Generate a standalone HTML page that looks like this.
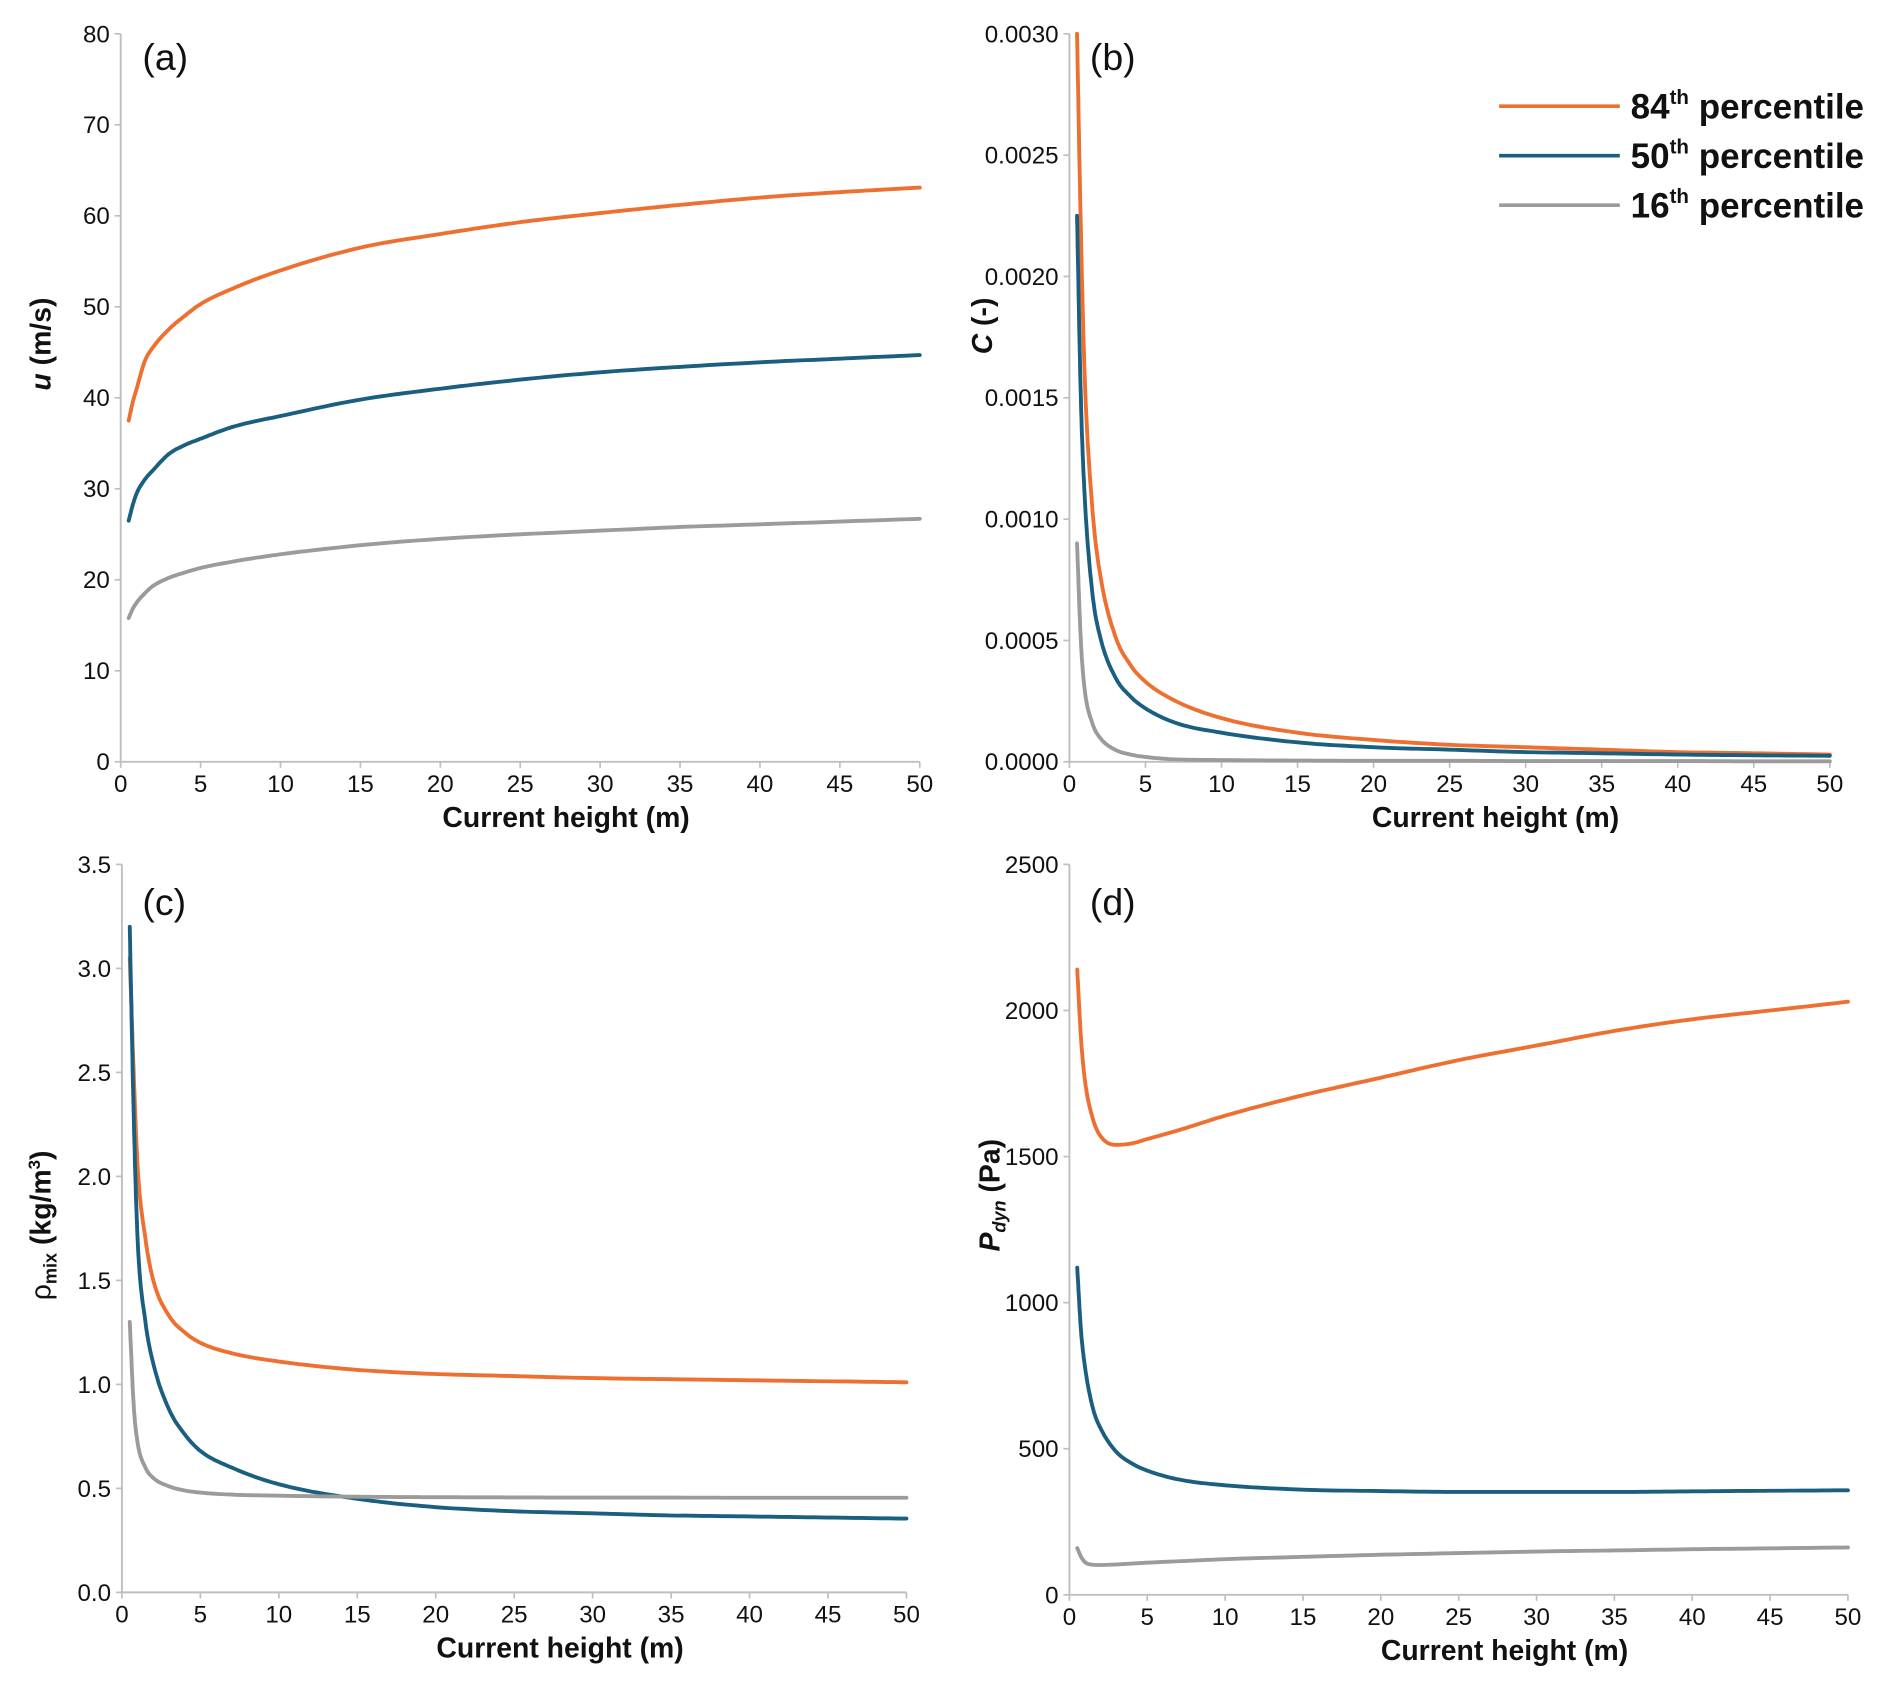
<!DOCTYPE html>
<html><head><meta charset="utf-8">
<style>
html,body{margin:0;padding:0;background:#fff;}
svg{display:block;font-family:"Liberation Sans",Arial,sans-serif;}
</style></head>
<body>
<svg id="chart" width="1892" height="1685" viewBox="0 0 1567.5 1395.7" preserveAspectRatio="none" xmlns="http://www.w3.org/2000/svg"></svg>
<script>
const heights = [0.5,0.75,1,1.5,2,3,4,5,7,10,15,20,25,30,35,40,45,50];
const xTicks = [0,5,10,15,20,25,30,35,40,45,50];
const seriesNames = ["84th","50th","16th"];
// Panel a: velocity u (m/s)
const uP84 = [37.5,39.5,41,44,45.5,47.5,49,50.3,52,54,56.5,58,59.3,60.3,61.2,62,62.6,63.1];
const uP50 = [26.5,28.2,29.5,31,32,33.8,34.8,35.5,36.8,38,39.8,41,42,42.8,43.4,43.9,44.3,44.7];
const uP16 = [15.8,16.8,17.5,18.5,19.3,20.2,20.8,21.3,22,22.8,23.8,24.5,25,25.4,25.8,26.1,26.4,26.7];
const uTicks = [0,10,20,30,40,50,60,70,80];
// Panel b: concentration C
const cP84 = [0.003,0.0022,0.0016,0.00105,0.00078,0.00052,0.0004,0.00033,0.00025,0.00018,0.00012,0.00009,0.00007,0.00006,0.00005,0.00004,0.000035,0.00003];
const cP50 = [0.00225,0.0015,0.0011,0.0007,0.00052,0.00035,0.00027,0.00022,0.00016,0.00012,0.00008,0.00006,0.00005,0.00004,0.000035,0.00003,0.000027,0.000025];
const cP16 = [0.0009,0.0005,0.0003,0.00016,0.0001,0.00005,0.00003,0.00002,0.00001,0.000007,0.000005,0.000004,0.000004,0.000003,0.000003,0.000003,0.000002,0.000002];
const cTicks = ["0.0000","0.0005","0.0010","0.0015","0.0020","0.0025","0.0030"];
// Panel c: density rho_mix
const rP84 = [3.05,2.5,2.05,1.7,1.5,1.33,1.25,1.2,1.15,1.11,1.07,1.05,1.04,1.03,1.025,1.02,1.015,1.01];
const rP50 = [3.2,2.3,1.7,1.3,1.1,0.88,0.76,0.68,0.6,0.52,0.45,0.41,0.39,0.38,0.37,0.365,0.36,0.355];
const rP16 = [1.3,0.9,0.72,0.6,0.55,0.51,0.49,0.48,0.47,0.465,0.46,0.458,0.457,0.456,0.456,0.455,0.455,0.455];
const rTicks = ["0.0","0.5","1.0","1.5","2.0","2.5","3.0","3.5"];
// Panel d: dynamic pressure
const pP84 = [2140,1900,1760,1630,1570,1540,1545,1560,1590,1640,1710,1770,1830,1880,1930,1970,2000,2030];
const pP50 = [1120,900,780,640,570,490,450,425,395,375,360,355,352,352,352,354,356,358];
const pP16 = [160,130,112,103,102,104,107,110,115,122,130,137,143,148,152,156,159,162];
const pTicks = [0,500,1000,1500,2000,2500];

const colors = ["#ed7031","#1a5f80","#9b9b9b"];
const NS = "http://www.w3.org/2000/svg";
const svg = document.getElementById("chart");
function mk(tag, attrs, parent){const e=document.createElementNS(NS,tag);for(const k in attrs)e.setAttribute(k,attrs[k]);(parent||svg).appendChild(e);return e;}

// monotone cubic (Fritsch-Carlson) interpolation for smooth curves
function monotone(xs, ys){
  const n=xs.length, d=[], m=new Array(n);
  for(let i=0;i<n-1;i++) d.push((ys[i+1]-ys[i])/(xs[i+1]-xs[i]));
  m[0]=d[0]; m[n-1]=d[n-2];
  for(let i=1;i<n-1;i++){ m[i] = (d[i-1]*d[i]<=0)?0:(d[i-1]+d[i])/2; }
  for(let i=0;i<n-1;i++){
    if(d[i]===0){m[i]=0;m[i+1]=0;continue;}
    const a=m[i]/d[i], b=m[i+1]/d[i], s=a*a+b*b;
    if(s>9){const t=3/Math.sqrt(s); m[i]=t*a*d[i]; m[i+1]=t*b*d[i];}
  }
  const out=[];
  for(let i=0;i<n-1;i++){
    const h=xs[i+1]-xs[i], steps=12;
    for(let k=0;k<steps;k++){
      const t=k/steps, t2=t*t, t3=t2*t;
      const y=(2*t3-3*t2+1)*ys[i]+(t3-2*t2+t)*h*m[i]+(-2*t3+3*t2)*ys[i+1]+(t3-t2)*h*m[i+1];
      out.push([xs[i]+t*h,y]);
    }
  }
  out.push([xs[n-1],ys[n-1]]);
  return out;
}

const panels = [
 {id:"a", x0:100,x1:762,y0:631,y1:28, ymax:80, ticks:uTicks, series:[uP84,uP50,uP16], lab:[118,58]},
 {id:"b", x0:886,x1:1516,y0:631,y1:28, ymax:0.003, ticks:cTicks, series:[cP84,cP50,cP16], lab:[903,58]},
 {id:"c", x0:101,x1:751,y0:1319,y1:716, ymax:3.5, ticks:rTicks, series:[rP84,rP50,rP16], lab:[118,758]},
 {id:"d", x0:886,x1:1531,y0:1321,y1:716, ymax:2500, ticks:pTicks, series:[pP84,pP50,pP16], lab:[903,758]},
];

panels.forEach(p=>{
  const g = mk("g",{});
  
  
  const xs = v => p.x0 + (v/50)*(p.x1-p.x0);
  const ys = v => p.y0 - (v/p.ymax)*(p.y0-p.y1);
  const ax = mk("g",{},g);
  
  
  mk("line",{x1:p.x0,y1:p.y0,x2:p.x0,y2:p.y1,stroke:"#bfbfbf","stroke-width":1.6},ax);
  mk("line",{x1:p.x0,y1:p.y0,x2:p.x1,y2:p.y0,stroke:"#bfbfbf","stroke-width":1.6},ax);
  p.ticks.forEach(t=>{
    const y = ys(parseFloat(t));
    mk("line",{x1:p.x0-5,y1:y,x2:p.x0,y2:y,stroke:"#bfbfbf","stroke-width":1.4},ax);
    const tx = mk("text",{x:p.x0-9,y:y+7,"text-anchor":"end","font-size":20,fill:"#111"},ax);
    tx.textContent = t;
    
    
  });
  xTicks.forEach(t=>{
    const x = xs(t);
    mk("line",{x1:x,y1:p.y0,x2:x,y2:p.y0+5,stroke:"#bfbfbf","stroke-width":1.4},ax);
    const tx = mk("text",{x:x,y:p.y0+25,"text-anchor":"middle","font-size":20,fill:"#111"},ax);
    tx.textContent = t;
    
    
  });
  const xt = mk("text",{x:(p.x0+p.x1)/2+38,y:p.y0+54,"text-anchor":"middle","font-size":23.5,"font-weight":"bold",fill:"#111"},g);
  xt.textContent = "Current height (m)";
  
  
  const pl = mk("text",{x:p.lab[0],y:p.lab[1],"font-size":31,fill:"#111"},g);
  pl.textContent = "("+p.id+")";
  
  
  p.series.forEach((vals,i)=>{
    const pts = monotone(heights, vals).map(([h,v])=>xs(h).toFixed(1)+","+ys(Math.min(v,p.ymax)).toFixed(1)).join(" ");
    const line = mk("polyline",{points:pts,fill:"none",stroke:colors[i],"stroke-width":3.2,"stroke-linejoin":"round","stroke-linecap":"round"},g);
    
    
  });
});

function ytitle(x,y,html,name){
  const t = mk("text",{transform:`translate(${x},${y}) rotate(-90)`,"text-anchor":"middle","font-size":23.5,"font-weight":"bold",fill:"#111"});
  t.innerHTML = html;
  
  
}
ytitle(42,285,'<tspan font-style="italic">u</tspan> (m/s)','y-axis-title-a');
ytitle(822,270,'<tspan font-style="italic">C</tspan> (-)','y-axis-title-b');
ytitle(42,1015,'<tspan font-weight="normal">ρ</tspan><tspan font-size="15" dy="5">mix</tspan><tspan dy="-5"> (kg/m</tspan><tspan font-size="14" dy="-9">3</tspan><tspan dy="9">)</tspan>','y-axis-title-c');
ytitle(828,990,'<tspan font-style="italic">P</tspan><tspan font-style="italic" font-size="15" dy="5">dyn</tspan><tspan dy="-5"> (Pa)</tspan>','y-axis-title-d');

const leg = mk("g",{});


const legY = [88,129,170], legNums = ["84","50","16"];
legNums.forEach((n,i)=>{
  const e = mk("g",{},leg);
  
  
  mk("line",{x1:1242,y1:legY[i],x2:1342,y2:legY[i],stroke:colors[i],"stroke-width":3},e);
  const t = mk("text",{x:1351,y:legY[i]+10,"font-size":29,"font-weight":"bold",fill:"#111"},e);
  t.innerHTML = n+'<tspan font-size="17" dy="-12">th</tspan><tspan dy="12"> percentile</tspan>';
});
</script>
</body></html>
